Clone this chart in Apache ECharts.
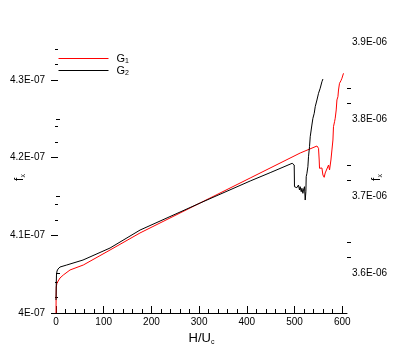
<!DOCTYPE html>
<html>
<head>
<meta charset="utf-8">
<script src="https://cdn.jsdelivr.net/npm/echarts@6/dist/echarts.min.js"></script>
<style>
  html, body { margin: 0; padding: 0; background: #fff; }
  #chart { width: 395px; height: 351px; }
</style>
</head>
<body>
<div id="chart"></div>
<script>
// G1 (red) on the left axis
var g1X = [0, 0.2, 0.6, 2, 4.8, 8.4, 15.3, 29.4, 57.3, 113.3, 176, 302, 407, 512, 547,
  550.3, 551.7, 552.4, 553.8, 557.4, 559.5, 562.2, 564.3, 567.9, 571.3, 573.4, 576.3,
  578.4, 580.5, 581.7, 583.9, 585.3, 587.4, 588.9, 591, 592.2, 594.3, 597.3, 599.4, 601.5, 602.7];
var g1Y = [4.0e-7, 4.0167e-7, 4.0335e-7, 4.0386e-7, 4.0403e-7, 4.0451e-7, 4.0489e-7, 4.0554e-7,
  4.0618e-7, 4.0811e-7, 4.1030e-7, 4.1416e-7, 4.1738e-7, 4.2060e-7, 4.2150e-7,
  4.2120e-7, 4.1970e-7, 4.1863e-7, 4.1841e-7, 4.1867e-7, 4.1777e-7, 4.1747e-7, 4.1803e-7,
  4.1819e-7, 4.1905e-7, 4.1841e-7, 4.1970e-7, 4.2099e-7, 4.2227e-7, 4.2399e-7, 4.2463e-7,
  4.2507e-7, 4.2614e-7, 4.2743e-7, 4.2785e-7, 4.2871e-7, 4.2957e-7, 4.2991e-7, 4.3022e-7,
  4.3064e-7, 4.3086e-7];

// G2 (black) on the right axis
var g2X = [0, 0.5, 1, 2.1, 4.2, 8.4, 22.4, 56.6, 113.3, 176.2, 302.1, 407, 448.9, 495.1,
  497.2, 499.3, 499.7, 499.9, 501.4, 504.9, 508.3, 510.4, 511.9, 514, 515.5, 517.6, 518.8,
  520.9, 522.4, 523.8, 524.5, 526, 528, 529.3, 531.4, 532.9, 536.4, 538.5, 541.3, 543.4,
  547, 550.3, 553.8, 557.4, 559.5];
var g2Y = [3.5649e-6, 3.5844e-6, 3.5974e-6, 3.6026e-6, 3.6052e-6, 3.6078e-6, 3.6104e-6,
  3.6169e-6, 3.6325e-6, 3.6558e-6, 3.6909e-6, 3.7195e-6, 3.7303e-6, 3.7425e-6,
  3.7422e-6, 3.7403e-6, 3.7234e-6, 3.7121e-6, 3.7100e-6, 3.7108e-6, 3.7143e-6, 3.7078e-6,
  3.7121e-6, 3.7056e-6, 3.7100e-6, 3.7035e-6, 3.7078e-6, 3.7121e-6, 3.6948e-6, 3.7056e-6,
  3.7251e-6, 3.7295e-6, 3.7381e-6, 3.7510e-6, 3.7640e-6, 3.7770e-6, 3.7922e-6, 3.8009e-6,
  3.8074e-6, 3.8160e-6, 3.8247e-6, 3.8334e-6, 3.8399e-6, 3.8484e-6, 3.8519e-6];

// ticks and labels
var xTicks = [0, 100, 200, 300, 400, 500, 600];
var xMinor = [20, 40, 60, 80, 120, 140, 160, 180, 220, 240, 260, 280, 320, 340, 360, 380,
  420, 440, 460, 480, 520, 540, 560, 580];
var leftTicks = [4.0e-7, 4.1e-7, 4.2e-7, 4.3e-7];
var leftLabels = ['4E-07', '4.1E-07', '4.2E-07', '4.3E-07'];
var leftMinor = [4.02e-7, 4.04e-7, 4.12e-7, 4.14e-7, 4.22e-7, 4.24e-7, 4.32e-7, 4.34e-7];
var rightTicks = [3.6e-6, 3.7e-6, 3.8e-6, 3.9e-6];
var rightLabels = ['3.6E-06', '3.7E-06', '3.8E-06', '3.9E-06'];
var rightMinor = [3.62e-6, 3.64e-6, 3.72e-6, 3.74e-6, 3.82e-6, 3.84e-6];

var FONT = 'Liberation Sans, Arial, sans-serif';

function pairs(xs, ys) {
  return xs.map(function (x, i) { return [x, ys[i]]; });
}
function lookup(ticks, labels) {
  return function (v) {
    var best = 0;
    for (var i = 1; i < ticks.length; i++) {
      if (Math.abs(ticks[i] - v) < Math.abs(ticks[best] - v)) best = i;
    }
    return labels[best];
  };
}
var sub = {
  a: { fontSize: 12, fontFamily: FONT, color: '#000', lineHeight: 14 },
  b: { fontSize: 7, fontFamily: FONT, color: '#000', lineHeight: 7, verticalAlign: 'bottom' }
};

var myChart = echarts.init(document.getElementById('chart'), null, { renderer: 'canvas' });
myChart.setOption({
  animation: false,
  backgroundColor: '#fff',
  grid: { left: 56, right: 48, top: 42, bottom: 38, containLabel: false, outerBoundsMode: 'none' },
  legend: {
    orient: 'vertical',
    left: 53,
    top: 48,
    itemWidth: 50,
    itemHeight: 6,
    itemGap: 0,
    selectedMode: false,
    itemStyle: { opacity: 0, borderWidth: 0 },
    lineStyle: { width: 1 },
    formatter: function (name) { return '{a|G}{b|' + name.slice(1) + '}'; },
    textStyle: { padding: [0, 0, 0, 3], rich: {
      a: { fontSize: 11, fontFamily: FONT, color: '#000', lineHeight: 13 },
      b: { fontSize: 7, fontFamily: FONT, color: '#000', lineHeight: 7, verticalAlign: 'bottom' }
    } },
    data: ['G1', 'G2']
  },
  xAxis: [{
    type: 'value', min: 0, max: 610,
    name: '{a|H/U}{b|c}', nameLocation: 'middle', nameGap: 11,
    nameTextStyle: { rich: { a: { fontSize: 13, fontFamily: FONT, color: '#000', lineHeight: 15 }, b: { fontSize: 7, fontFamily: FONT, color: '#000', lineHeight: 7, verticalAlign: 'bottom' } } },
    axisLine: { show: true, lineStyle: { color: '#000', width: 1 } },
    axisTick: { show: true, inside: true, length: 7, customValues: xTicks, lineStyle: { color: '#000' } },
    axisLabel: { customValues: xTicks, color: '#000', fontSize: 10, fontFamily: FONT, margin: 4 },
    splitLine: { show: false }
  }, {
    type: 'value', min: 0, max: 610, position: 'bottom',
    axisLine: { show: false },
    axisTick: { show: true, inside: true, length: 4, customValues: xMinor, lineStyle: { color: '#000' } },
    axisLabel: { show: false },
    splitLine: { show: false }
  }],
  yAxis: [{
    type: 'value', position: 'left', min: 4.0e-7, max: 4.3489e-7, offset: -2,
    name: '{a|f}{b|x}', nameLocation: 'middle', nameRotate: 90, nameGap: 31, nameMoveOverlap: false,
    nameTextStyle: { rich: sub },
    axisLine: { show: false },
    axisTick: { show: true, length: 7, customValues: leftTicks, lineStyle: { color: '#000' } },
    axisLabel: { customValues: leftTicks, formatter: lookup(leftTicks, leftLabels), color: '#000', fontSize: 10, fontFamily: FONT, margin: 13 },
    splitLine: { show: false }
  }, {
    type: 'value', position: 'right', min: 3.5481e-6, max: 3.9e-6,
    name: '{a|f}{b|x}', nameLocation: 'middle', nameRotate: 90, nameGap: 23, nameMoveOverlap: false,
    nameTextStyle: { rich: sub },
    axisLine: { show: false },
    axisTick: { show: true, length: 4, customValues: rightTicks.slice(0, 3), lineStyle: { color: '#000' } },
    axisLabel: { customValues: rightTicks, formatter: lookup(rightTicks, rightLabels), color: '#000', fontSize: 10, fontFamily: FONT, margin: 5 },
    splitLine: { show: false }
  }, {
    type: 'value', position: 'left', min: 4.0e-7, max: 4.3489e-7, offset: -2,
    axisLine: { show: false },
    axisTick: { show: true, length: 3, customValues: leftMinor, lineStyle: { color: '#000' } },
    axisLabel: { show: false },
    splitLine: { show: false }
  }, {
    type: 'value', position: 'right', min: 3.5481e-6, max: 3.9e-6,
    axisLine: { show: false },
    axisTick: { show: true, length: 4, customValues: rightMinor, lineStyle: { color: '#000' } },
    axisLabel: { show: false },
    splitLine: { show: false }
  }],
  series: [{
    name: 'G1', type: 'line', yAxisIndex: 0, symbol: 'none',
    data: pairs(g1X, g1Y),
    lineStyle: { color: '#ff0000', width: 1 },
    itemStyle: { color: '#ff0000' }
  }, {
    name: 'G2', type: 'line', yAxisIndex: 1, symbol: 'none',
    data: pairs(g2X, g2Y),
    lineStyle: { color: '#000000', width: 1 },
    itemStyle: { color: '#000000' }
  }]
});
window.addEventListener('resize', function () { myChart.resize(); });
</script>
</body>
</html>
